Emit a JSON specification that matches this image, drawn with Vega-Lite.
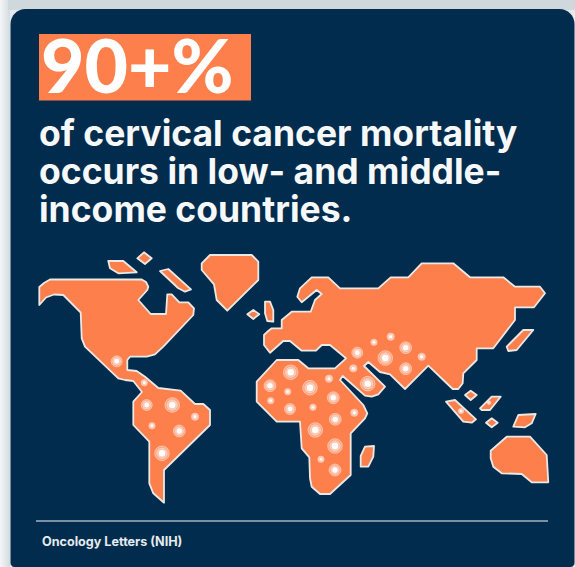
{"$schema":"https://vega.github.io/schema/vega-lite/v6.json","width":575,"height":567,"padding":0,"autosize":{"type":"fit","contains":"padding"},"background":"#e6eaec","view":{"stroke":null},"projection":{"type":"identity","scale":1,"translate":[0,0]},
"layer":[
{"data":{"values":[{"x":0,"x2":10,"y":0,"y2":567}]},"mark":{"type":"rect","color":{"x1":0,"x2":1,"y1":0,"y2":0,"gradient":"linear","stops":[{"offset":0,"color":"#f4f6f7"},{"offset":1,"color":"#d3dbdf"}]}},"encoding":{"x":{"field":"x","type":"quantitative","scale":{"domain":[0,575],"nice":false,"zero":false},"axis":null},"x2":{"field":"x2"},"y":{"field":"y","type":"quantitative","scale":{"domain":[0,567],"nice":false,"zero":false,"reverse":true},"axis":null},"y2":{"field":"y2"}}},
{"data":{"values":[{"x":8,"x2":575,"y":0,"y2":10}]},"mark":{"type":"rect","color":"#cfd8dd"},"encoding":{"x":{"field":"x","type":"quantitative","axis":null},"x2":{"field":"x2"},"y":{"field":"y","type":"quantitative","axis":null},"y2":{"field":"y2"}}},
{"data":{"values":[{"x":10.5,"x2":574.5,"y":9,"y2":567}]},"mark":{"type":"rect","color":"#022c4d","cornerRadiusTopLeft":15,"cornerRadiusTopRight":15,"cornerRadiusBottomLeft":4,"cornerRadiusBottomRight":4},"encoding":{"x":{"field":"x","type":"quantitative","axis":null},"x2":{"field":"x2"},"y":{"field":"y","type":"quantitative","axis":null},"y2":{"field":"y2"}}},
{"data":{"values":[{"x":39,"x2":251,"y":34,"y2":100.5}]},"mark":{"type":"rect","color":"#fd7f4c"},"encoding":{"x":{"field":"x","type":"quantitative","axis":null},"x2":{"field":"x2"},"y":{"field":"y","type":"quantitative","axis":null},"y2":{"field":"y2"}}},
{"data":{"values":[
{"type":"Feature","properties":{"name":"Americas"},"geometry":{"type":"Polygon","coordinates":[[[39.3,305],[39.3,287],[44,283],[50,279.5],[141.7,279.5],[146,282],[148.3,286.7],[147.3,290],[138.3,300],[150.7,314],[166,314],[167.3,294.3],[171.7,294.3],[179.3,302.3],[188.3,302.3],[194,308.3],[193.3,315],[163.3,346.7],[155,354.3],[146.7,356.7],[130,356.7],[127.3,360],[127.3,370],[136.7,371],[145,376.7],[158.3,388],[180.7,390.7],[195,404],[203.3,404],[210,410],[210,425],[164,470],[164,502.7],[153.3,493.3],[149.3,483.3],[149.3,441.7],[133.3,425],[133.3,401.7],[142,392],[133.3,381],[125,380],[118.3,378.3],[85,346.7],[81.7,338.3],[80.7,312.7],[63.3,295],[54,294.5],[46,297.5],[39.3,305]]]}},
{"type":"Feature","properties":{"name":"Afro-Eurasia"},"geometry":{"type":"Polygon","coordinates":[[[264,345],[264,335],[266.7,332.3],[271.7,328.3],[281.7,328.3],[281.7,320],[291.7,311.7],[310.7,311.7],[315,300],[321.7,294],[316.7,290],[301.7,302.3],[297.3,296.7],[300,288.3],[311.7,277.3],[328.3,277.3],[340,288.3],[378.3,288.3],[390.7,277.3],[408.3,277.3],[421.7,263.3],[453.3,263.3],[470,277.3],[503.3,277.3],[515,286.7],[540,286.7],[545,293.3],[534,307.3],[515,307.3],[515,320],[493.3,348.3],[476.7,348.3],[476.7,360],[463.3,373.3],[462.7,383.3],[458.3,389],[452.7,389],[428.3,365.7],[405,389],[390,374.3],[380,372],[368.3,362],[364,366],[385,386.7],[378.3,394.3],[371.7,396.7],[365,395.7],[342.7,376],[340,380],[363.3,405],[367.3,413.3],[365,418.3],[350.7,433.3],[350.7,475],[330,494],[320,494],[311.7,486.7],[310,478.3],[309.3,457.3],[301.7,448.3],[300,421.7],[276.7,421.7],[256.7,401.7],[256.7,381.7],[276.7,360],[298.3,360],[308.3,368.3],[335,368.3],[346,358.3],[330,345],[321.7,345],[316,350.7],[301.7,350.7],[290,341],[283.3,341],[270,352.7],[264,345]]]}},
{"type":"Feature","properties":{"name":"Greenland"},"geometry":{"type":"Polygon","coordinates":[[[210,255],[251.7,255],[258.3,261.7],[258.3,280],[227.3,310.7],[216.7,300],[214,284.3],[201.7,270],[201.7,263.3],[210,255]]]}},
{"type":"Feature","properties":{"name":"Arctic 1"},"geometry":{"type":"Polygon","coordinates":[[[108.3,261],[123.3,261],[136.7,272.3],[118.3,273.3],[110,268.3],[108.3,261]]]}},
{"type":"Feature","properties":{"name":"Arctic 2"},"geometry":{"type":"Polygon","coordinates":[[[144,252.3],[151.7,258.3],[145,264],[137.3,258.3],[144,252.3]]]}},
{"type":"Feature","properties":{"name":"Baffin"},"geometry":{"type":"Polygon","coordinates":[[[160,271],[168.3,269],[191,289.3],[185,291.7],[178,288],[160,271]]]}},
{"type":"Feature","properties":{"name":"Iceland"},"geometry":{"type":"Polygon","coordinates":[[[247.3,314.3],[253.3,310],[259.3,314.3],[253.3,319],[247.3,314.3]]]}},
{"type":"Feature","properties":{"name":"UK"},"geometry":{"type":"Polygon","coordinates":[[[265,301.7],[270,301.7],[273.3,310],[273.3,321.7],[267.3,321],[265,313.3],[265,301.7]]]}},
{"type":"Feature","properties":{"name":"Japan"},"geometry":{"type":"Polygon","coordinates":[[[506.7,346.7],[523.3,330],[533.3,330],[516.7,350],[508.3,351],[506.7,346.7]]]}},
{"type":"Feature","properties":{"name":"Madagascar"},"geometry":{"type":"Polygon","coordinates":[[[360.7,456],[365,446.7],[374,446],[373.3,456.7],[368.3,466.7],[360.7,466.7],[360.7,456]]]}},
{"type":"Feature","properties":{"name":"Taiwan"},"geometry":{"type":"Polygon","coordinates":[[[465,395],[470.7,390.7],[476.7,395],[470.7,400],[465,395]]]}},
{"type":"Feature","properties":{"name":"Philippines"},"geometry":{"type":"Polygon","coordinates":[[[480,408.3],[491.7,396.7],[500.7,396.7],[490,410],[481.7,410],[480,408.3]]]}},
{"type":"Feature","properties":{"name":"Sumatra"},"geometry":{"type":"Polygon","coordinates":[[[446,401.7],[455,400],[476,419.3],[471.7,422.7],[463.3,421.7],[446,401.7]]]}},
{"type":"Feature","properties":{"name":"Sulawesi"},"geometry":{"type":"Polygon","coordinates":[[[486,422.7],[491.7,418.3],[497.7,422.7],[491.7,427.3],[486,422.7]]]}},
{"type":"Feature","properties":{"name":"New Guinea"},"geometry":{"type":"Polygon","coordinates":[[[513.3,426.7],[518.3,415],[535.7,414],[531.7,423.3],[525,427.3],[513.3,426.7]]]}},
{"type":"Feature","properties":{"name":"Australia"},"geometry":{"type":"Polygon","coordinates":[[[490.7,450.7],[506.7,436.7],[530,436.7],[546.7,455],[548.3,482.3],[531.7,482.3],[521.7,474],[501.7,473.3],[493.3,466.7],[490.7,458.3],[490.7,450.7]]]}}
]},"mark":{"type":"geoshape","fill":"#fd7f4c","stroke":"#e9e9e6","strokeWidth":1.8,"strokeJoin":"round"}},
{"data":{"name":"hotspots","values":[
{"x":290.7,"y":372.3,"burden":8},{"x":270,"y":385.7,"burden":6.5},{"x":287.7,"y":391.7,"burden":3.5},{"x":310,"y":387.7,"burden":8},{"x":329,"y":378.7,"burden":4},{"x":270.7,"y":400.7,"burden":3.5},{"x":290,"y":409,"burden":6},{"x":313,"y":407.3,"burden":3.5},{"x":333.3,"y":397.7,"burden":6.5},{"x":354.3,"y":412.7,"burden":4},{"x":335.3,"y":419.3,"burden":6.5},{"x":315.3,"y":430,"burden":8},{"x":335,"y":446,"burden":8},{"x":321,"y":459.3,"burden":3.5},{"x":335,"y":470,"burden":6.5},{"x":353.3,"y":368.3,"burden":4},{"x":367.7,"y":383.7,"burden":8},{"x":357.3,"y":352.7,"burden":6},{"x":385.3,"y":358,"burden":8},{"x":405.7,"y":347.7,"burden":6.5},{"x":390.7,"y":336.7,"burden":4},{"x":374,"y":342.3,"burden":3.5},{"x":421.7,"y":356.7,"burden":4},{"x":405.7,"y":368.7,"burden":6.5},{"x":146.7,"y":405,"burden":6},{"x":172.3,"y":405,"burden":8},{"x":195,"y":416.7,"burden":4},{"x":152,"y":425.7,"burden":3.5},{"x":179.3,"y":431,"burden":6.5},{"x":162,"y":453.3,"burden":8},{"x":144.3,"y":382.7,"burden":3.5},{"x":116.7,"y":361.3,"burden":6},{"x":461,"y":411,"burden":3},{"x":489,"y":402.7,"burden":2}
]},"layer":[
{"mark":{"type":"point","shape":"circle","filled":true,"fill":"#ffffff","fillOpacity":0.3,"stroke":"#ffffff","strokeOpacity":0.6,"strokeWidth":0.7},"encoding":{"x":{"field":"x","type":"quantitative","axis":null},"y":{"field":"y","type":"quantitative","axis":null},"size":{"field":"burden","type":"quantitative","legend":null,"scale":{"type":"pow","exponent":2,"domain":[0,8],"range":[0,215]}}}},
{"mark":{"type":"point","shape":"circle","filled":true,"fill":"#ffffff","fillOpacity":0.35,"stroke":"#ffffff","strokeOpacity":0.5,"strokeWidth":0.6},"encoding":{"x":{"field":"x","type":"quantitative","axis":null},"y":{"field":"y","type":"quantitative","axis":null},"size":{"field":"burden","type":"quantitative","legend":null,"scale":{"type":"pow","exponent":2,"domain":[0,8],"range":[0,110]}}}},
{"mark":{"type":"point","shape":"circle","filled":true,"fill":"#ffffff","fillOpacity":1,"strokeWidth":0},"encoding":{"x":{"field":"x","type":"quantitative","axis":null},"y":{"field":"y","type":"quantitative","axis":null},"size":{"field":"burden","type":"quantitative","legend":null,"scale":{"type":"pow","exponent":2,"domain":[0,8],"range":[0,42]}}}}
],"resolve":{"scale":{"size":"independent"}}},
{"data":{"values":[{"x":36,"x2":548,"y":521}]},"mark":{"type":"rule","color":"#a3b3c0","strokeWidth":1.5},"encoding":{"x":{"field":"x","type":"quantitative","axis":null},"x2":{"field":"x2"},"y":{"field":"y","type":"quantitative","axis":null}}},
{"data":{"values":[{"x":41,"y":93,"label":"90+%"}]},"mark":{"type":"text","align":"left","baseline":"alphabetic","font":"Lato","fontWeight":900,"fontSize":75,"fill":"#ffffff"},"encoding":{"x":{"field":"x","type":"quantitative","axis":null},"y":{"field":"y","type":"quantitative","axis":null},"text":{"field":"label"}}},
{"data":{"values":[{"x":39,"y":146,"label":"of cervical cancer mortality"},{"x":39,"y":184,"label":"occurs in low- and middle-"},{"x":39,"y":222,"label":"income countries."}]},"mark":{"type":"text","align":"left","baseline":"alphabetic","font":"Inter","fontWeight":700,"fontSize":35.5,"fill":"#f6f8f9"},"encoding":{"x":{"field":"x","type":"quantitative","axis":null},"y":{"field":"y","type":"quantitative","axis":null},"text":{"field":"label"}}},
{"data":{"values":[{"x":42,"y":546,"label":"Oncology Letters (NIH)"}]},"mark":{"type":"text","align":"left","baseline":"alphabetic","font":"Inter","fontWeight":700,"fontSize":12.6,"fill":"#e6ebee"},"encoding":{"x":{"field":"x","type":"quantitative","axis":null},"y":{"field":"y","type":"quantitative","axis":null},"text":{"field":"label"}}}
],"resolve":{"scale":{"size":"independent"}}}
